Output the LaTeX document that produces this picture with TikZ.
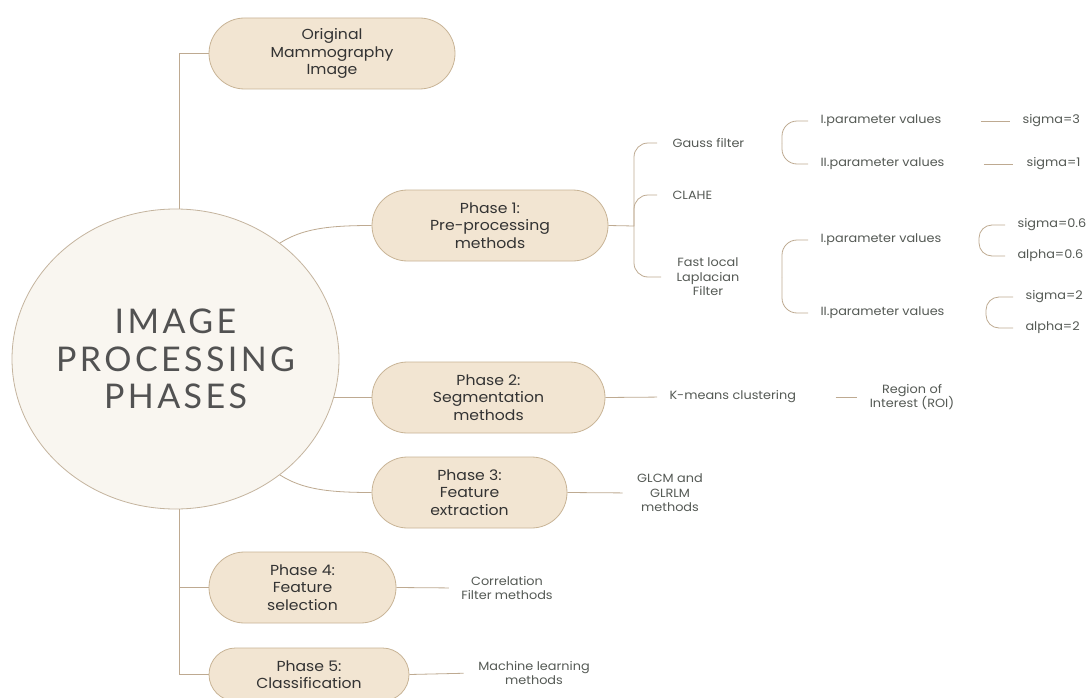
\documentclass[tikz,border=0pt]{standalone}
\usepackage{fontspec}
\setmainfont[FakeStretch=1.08]{Poppins}
\newfontfamily\titlefont[LetterSpace=10]{Lato}
\usetikzlibrary{shapes.geometric,shapes.misc,backgrounds}

\definecolor{boxfill}{HTML}{F2E5D2}
\definecolor{boxline}{HTML}{C8B496}
\definecolor{rootfill}{HTML}{F9F6F0}
\definecolor{rootline}{HTML}{C4B49E}
\definecolor{linkcol}{HTML}{BEAA91}
\definecolor{boxtext}{HTML}{333333}
\definecolor{sidegray}{HTML}{555A55}

\tikzset{
  phasebox/.style={rounded rectangle, draw=boxline, fill=boxfill, line width=0.8pt,
    minimum height=71, inner sep=0pt, align=center, text=boxtext,
    font=\fontsize{14.5}{17.5}\selectfont},
  sidetext/.style={text=sidegray, align=center, font=\fontsize{11.9}{14.5}\selectfont},
  link/.style={draw=linkcol, line width=0.8pt},
}

\begin{document}
\begin{tikzpicture}[x=1pt,y=-1pt]
\useasboundingbox (0,0) rectangle (1089,698);

\node[ellipse, draw=rootline, fill=rootfill, line width=0.8pt, minimum width=327, minimum height=300,
  inner sep=0pt] (root) at (175.5,359) {};
\node[align=center, text=boxtext!85, font=\titlefont\fontsize{34}{37.5}\selectfont]
  (title) at (root.center) {IMAGE\\PROCESSING\\PHASES};

\node[phasebox, minimum width=246] (orig) at (332,53.5) {Original\\Mammography\\Image};
\node[phasebox, minimum width=236] (p1) at (490,225.5) {Phase 1:\\Pre-processing\\methods};
\node[phasebox, minimum width=233] (p2) at (488.5,397.5) {Phase 2:\\Segmentation\\methods};
\node[phasebox, minimum width=195] (p3) at (469.5,492.5) {Phase 3:\\Feature\\extraction};
\node[phasebox, minimum width=187] (p4) at (302.5,587.5) {Phase 4:\\Feature\\selection};
\node[phasebox, minimum width=200, minimum height=53] (p5) at (309,674.5) {Phase 5:\\Classification};

% pre-processing branch
\node[sidetext, anchor=west] (gauss) at (669,143) {Gauss filter};
\node[sidetext, anchor=west] (clahe) at (669,195) {CLAHE};
\node[sidetext] (fll) at (708,277) {Fast local\\Laplacian\\Filter};
\node[sidetext, anchor=west] (g1) at (817,121) {I.parameter values};
\node[sidetext, anchor=west] (g2) at (817,164) {II.parameter values};
\node[sidetext, anchor=west] (s3) at (1019,121) {sigma=3};
\node[sidetext, anchor=west] (s1) at (1023,164) {sigma=1};
\node[sidetext, anchor=west] (f1) at (817,240) {I.parameter values};
\node[sidetext, anchor=west] (f2) at (817,313) {II.parameter values};
\node[sidetext, anchor=west] (sa1) at (1014,225) {sigma=0.6};
\node[sidetext, anchor=west] (sa2) at (1014,256) {alpha=0.6};
\node[sidetext, anchor=west] (sb1) at (1022,297) {sigma=2};
\node[sidetext, anchor=west] (sb2) at (1022,328) {alpha=2};

% other phases
\node[sidetext, anchor=west] (km) at (666,397) {K-means clustering};
\node[sidetext] (roi) at (912,397) {Region of\\Interest (ROI)};
\node[sidetext] (glcm) at (670,493) {GLCM and\\GLRLM\\methods};
\node[sidetext] (corr) at (507,588) {Correlation\\Filter methods};
\node[sidetext] (ml) at (534,673) {Machine learning\\methods};

\coordinate (b1) at (634,226);
\coordinate (b2) at (782,143);
\coordinate (b3) at (782,277);
\coordinate (b4) at (979,240);
\coordinate (b5) at (986,313);

\begin{scope}[on background layer]
\fill[white] (0,0) rectangle (1089,698);
\draw[link] ([xshift=4]root.north) |- (orig.west);
\draw[link] (root.48) .. controls +(22,-14) and +(-45,0) .. (p1.west);
\draw[link] (root.center |- p2.west) -- (p2.west);
\draw[link] (root.-48) .. controls +(22,14) and +(-45,0) .. (p3.west);
\draw[link] ([xshift=4]root.south) |- (p4.west);
\draw[link] ([xshift=4]root.south) |- (p5.west);

\draw[link] (p1.east) -- (b1);
\draw[link, rounded corners=14, shorten >=12] (b1) |- (gauss.west);
\draw[link, rounded corners=14, shorten >=12] (b1) |- (clahe.west);
\draw[link, rounded corners=14, shorten >=12] (b1) |- (fll.west);

\draw[link, rounded corners=15, shorten >=9] (b2) |- (g1.west);
\draw[link, rounded corners=15, shorten >=9] (b2) |- (g2.west);
\draw[link, shorten <=36, shorten >=9] (g1.east) -- (s3.west);
\draw[link, shorten <=36, shorten >=10] (g2.east) -- (s1.west);

\draw[link, rounded corners=15, shorten >=9] (b3) |- (f1.west);
\draw[link, rounded corners=15, shorten >=9] (b3) |- (f2.west);
\draw[link, rounded corners=13, shorten >=9] (b4) |- (sa1.west);
\draw[link, rounded corners=13, shorten >=9] (b4) |- (sa2.west);
\draw[link, rounded corners=13, shorten >=9] (b5) |- (sb1.west);
\draw[link, rounded corners=13, shorten >=9] (b5) |- (sb2.west);

\draw[link, shorten >=9] (p2.east) -- (km.west);
\draw[link, shorten <=36, shorten >=9] (km.east) -- (roi.west);
\draw[link, shorten >=11] (p3.east) -- (glcm.west);
\draw[link, shorten >=9] (p4.east) -- (corr.west);
\draw[link, shorten >=11] (p5.east) -- (ml.west);
\end{scope}
\end{tikzpicture}
\end{document}
